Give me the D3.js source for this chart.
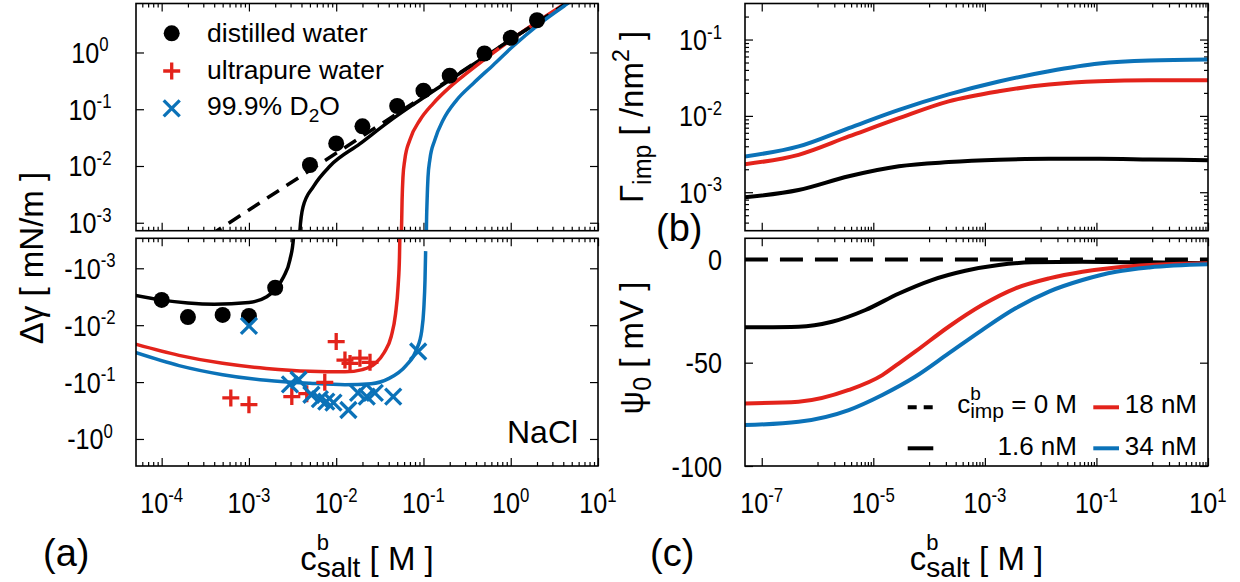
<!DOCTYPE html>
<html>
<head>
<meta charset="utf-8">
<script src="https://cdn.jsdelivr.net/npm/d3@7"></script>
<style>
  body { margin: 0; background: #fff; }
  svg { font-family: "Liberation Sans", Arial, sans-serif; }
</style>
</head>
<body>
<div id="chart"></div>
<script>
/* DATA */
// tick labels (exponents of 10, or plain values)
const xLeftExp = [-4, -3, -2, -1, 0, 1];
const yTopLeftExp = [0, -1, -2, -3];
const yBotLeftExp = [-3, -2, -1, 0];
const xRightExp = [-7, -5, -3, -1, 1];
const yTopRightExp = [-1, -2, -3];
const yBotRightTicks = [0, -50, -100];

// (a) measured delta gamma [mN/m] vs c_salt [M]
const distilled = [[1e-4, -0.0036], [2e-4, -0.0072], [5e-4, -0.0066], [1e-3, -0.0069], [2e-3, -0.0022],
  [5e-3, 0.0104], [0.01, 0.025], [0.02, 0.050], [0.05, 0.114], [0.1, 0.212], [0.2, 0.39],
  [0.5, 0.96], [1, 1.81], [2, 3.7]];
const ultrapure = [[6.2e-4, -0.19], [1e-3, -0.25], [3.1e-3, -0.18], [4.6e-3, -0.16], [7.4e-3, -0.101],
  [0.01, -0.0194], [0.0126, -0.041], [0.0144, -0.047], [0.0187, -0.038], [0.0244, -0.045]];
const d2o = [[1e-3, -0.0103], [2.95e-3, -0.11], [3.7e-3, -0.091], [5.2e-3, -0.167], [6.5e-3, -0.20],
  [7.7e-3, -0.22], [9.3e-3, -0.23], [0.0138, -0.31], [0.0178, -0.155], [0.0224, -0.18],
  [0.0277, -0.155], [0.045, -0.18], [0.087, -0.029]];

// (a) theory curves
const fitZero = [[1e-5, 1.68e-5], [1e-3, 1.68e-3], [1e-1, 0.168], [10, 16.8]];
const fit16 = [[5e-5, -0.0030], [1e-4, -0.00363], [2e-4, -0.00407], [4e-4, -0.00427], [1e-3, -0.00398],
  [1.6e-3, -0.00316], [2e-3, -0.00234], [2.5e-3, -0.00141], [2.95e-3, -0.00071], [3.24e-3, -0.000295],
  [3.39e-3, -0.0001], [3.72e-3, 0.0001], [3.84e-3, 0.000724], [4.17e-3, 0.0019], [5.5e-3, 0.00437],
  [8.5e-3, 0.0100], [0.0186, 0.0245], [0.0398, 0.060], [0.0794, 0.126], [0.158, 0.257],
  [0.316, 0.522], [1, 1.68], [10, 16.8]];
const fit18 = [[5e-5, -0.0215], [1.58e-4, -0.0339], [5e-4, -0.0468], [1.58e-3, -0.0575], [5e-3, -0.0646],
  [0.0126, -0.0661], [0.020, -0.0603], [0.0282, -0.0468], [0.0355, -0.0302], [0.0427, -0.0158],
  [0.0479, -0.0063], [0.0513, -0.0020], [0.0531, -0.00063], [0.0540, -0.00016],
  [0.0552, 0.0001], [0.0560, 0.00072], [0.0569, 0.0025], [0.0582, 0.0063], [0.0611, 0.0129],
  [0.0698, 0.0288], [0.0912, 0.0646], [0.129, 0.126], [0.200, 0.245], [0.316, 0.437],
  [0.501, 0.759], [1, 1.66], [10, 16.8]];
const fit34 = [[5e-5, -0.0302], [1.58e-4, -0.0513], [5e-4, -0.0741], [1.58e-3, -0.0933], [5e-3, -0.105],
  [0.0126, -0.111], [0.0251, -0.107], [0.0398, -0.0871], [0.0631, -0.0513], [0.0832, -0.0269],
  [0.0955, -0.0126], [0.101, -0.0050], [0.1042, -0.00158], [0.1059, -0.0005],
  [0.1076, 0.0001], [0.1081, 0.00072], [0.1101, 0.0025], [0.1127, 0.0063], [0.1183, 0.0129],
  [0.1349, 0.0288], [0.168, 0.0646], [0.240, 0.145], [0.372, 0.285], [0.631, 0.603],
  [1.047, 1.26], [2.0, 2.95], [4.47, 7.24], [10, 16.6]];

// (b) impurity surface excess [1/nm^2]
const gamma16 = [[5e-8, 0.000859], [4.57e-7, 0.00107], [3.63e-6, 0.00162], [2.88e-5, 0.00219],
  [2.24e-4, 0.00248], [1.78e-3, 0.00266], [0.0141, 0.00274], [0.112, 0.00274], [0.891, 0.00269], [10, 0.00263]];
const gamma18 = [[5e-8, 0.00233], [4.57e-7, 0.00309], [3.63e-6, 0.00537], [2.88e-5, 0.00933],
  [2.24e-4, 0.0155], [1.78e-3, 0.0210], [0.0141, 0.0257], [0.112, 0.0284], [0.891, 0.0292], [10, 0.0292]];
const gamma34 = [[5e-8, 0.00294], [4.57e-7, 0.00398], [3.63e-6, 0.00692], [2.88e-5, 0.0120],
  [2.24e-4, 0.0191], [1.78e-3, 0.0282], [0.0141, 0.0384], [0.112, 0.0484], [0.891, 0.0530], [10, 0.0546]];

// (c) surface potential [mV]
const psiZero = [[5e-8, 0], [10, 0]];
const psi16 = [[5e-8, -32.9], [4.57e-7, -32.6], [1.82e-6, -30.2], [7.24e-6, -24.5], [2.88e-5, -16.5],
  [1.12e-4, -10.0], [4.47e-4, -5.5], [1.78e-3, -2.7], [7.08e-3, -1.45], [0.0562, -1.1], [0.891, -1.45], [10, -1.9]];
const psi18 = [[5e-8, -69.7], [4.57e-7, -68.9], [3.63e-6, -63.2], [1.45e-5, -56], [2.88e-5, -50.3],
  [5.62e-5, -44.7], [2.24e-4, -32.6], [8.91e-4, -22.1], [3.55e-3, -14.0], [0.0141, -9.2],
  [0.0562, -6.0], [0.224, -3.9], [0.891, -2.7], [10, -1.9]];
const psi34 = [[5e-8, -80.2], [4.57e-7, -78.6], [3.63e-6, -72.9], [1.45e-5, -65.6], [5.62e-5, -56.8],
  [2.24e-4, -45.5], [8.91e-4, -34.2], [3.55e-3, -23.7], [0.0141, -15.6], [0.0562, -10.0],
  [0.224, -6.0], [0.891, -3.9], [10, -2.4]];

/* LAYOUT */
const width = 1240, height = 582;
const red = "#e3231b", blue = "#0b72b8";
const panelL = [136, 598], panelR = [745, 1208];
const topY = [3.5, 230.7], botY = [238.3, 466];

const svg = d3.select("#chart").append("svg")
  .attr("width", width).attr("height", height);

// scales
const xL = d3.scaleLog().domain([Math.pow(10, -4.294), 10]).range(panelL);
const yTL = d3.scaleLog().domain([Math.pow(10, -3.14), Math.pow(10, 0.863)]).range([topY[1], topY[0]]);
const yBL = d3.scaleLog().domain([Math.pow(10, -3.527), Math.pow(10, 0.475)]).range(botY); // |delta gamma|, grows downward
const xR = d3.scaleLog().domain([Math.pow(10, -7.3), 10]).range(panelR);
const yTR = d3.scaleLog().domain([Math.pow(10, -3.504), Math.pow(10, -0.528)]).range([topY[1], topY[0]]);
const yBR = d3.scaleLinear().domain([-100, 10.2]).range([botY[1], botY[0]]);

// clip paths
function clip(id, xr, yr) {
  svg.append("clipPath").attr("id", id).append("rect")
    .attr("x", xr[0]).attr("y", yr[0])
    .attr("width", xr[1] - xr[0]).attr("height", yr[1] - yr[0]);
}
clip("cTL", panelL, topY); clip("cBL", panelL, botY);
clip("cTR", panelR, topY); clip("cBR", panelR, botY);

// minor tick helpers
function logMinors(scale) {
  const [a, b] = scale.domain();
  const out = [];
  for (let e = Math.floor(Math.log10(a)) - 1; e <= Math.ceil(Math.log10(b)); e++) {
    for (let k = 2; k <= 9; k++) {
      const v = k * Math.pow(10, e);
      if (v > a && v < b) out.push(v);
    }
  }
  return out;
}
function rightMinors() {
  const out = [];
  xRightExp.forEach(e => {
    for (let k = 1; k <= 9; k++) {
      const v = k * Math.pow(10, e + 1);
      if (v < 10) out.push(v);
    }
  });
  return out;
}

function ticks(axisFn, scale, vals, size, tr) {
  svg.append("g").attr("transform", tr)
    .call(axisFn(scale).tickValues(vals).tickSize(-size).tickFormat(""))
    .call(g => g.select(".domain").remove())
    .selectAll("line").attr("stroke", "#000").attr("stroke-width", 1.2);
}

function frame(xr, yr) {
  svg.append("rect").attr("x", xr[0]).attr("y", yr[0])
    .attr("width", xr[1] - xr[0]).attr("height", yr[1] - yr[0])
    .attr("fill", "none").attr("stroke", "#000").attr("stroke-width", 1.6);
}

const pw = e => Math.pow(10, e);

// + TICKS, left panels
[topY, botY].forEach((yr, i) => {
  const ys = i === 0 ? yTL : yBL;
  const yExp = i === 0 ? yTopLeftExp : yBotLeftExp;
  ticks(d3.axisBottom, xL, xLeftExp.map(pw), 8, `translate(0,${yr[1]})`);
  ticks(d3.axisTop, xL, xLeftExp.map(pw), 8, `translate(0,${yr[0]})`);
  ticks(d3.axisBottom, xL, logMinors(xL), 4, `translate(0,${yr[1]})`);
  ticks(d3.axisTop, xL, logMinors(xL), 4, `translate(0,${yr[0]})`);
  ticks(d3.axisLeft, ys, yExp.map(pw), 8, `translate(${panelL[0]},0)`);
  ticks(d3.axisRight, ys, yExp.map(pw), 8, `translate(${panelL[1]},0)`);
});

// + TICKS, right panels
[topY, botY].forEach(yr => {
  ticks(d3.axisBottom, xR, xRightExp.map(pw), 8, `translate(0,${yr[1]})`);
  ticks(d3.axisTop, xR, xRightExp.map(pw), 8, `translate(0,${yr[0]})`);
  ticks(d3.axisBottom, xR, rightMinors(), 4, `translate(0,${yr[1]})`);
  ticks(d3.axisTop, xR, rightMinors(), 4, `translate(0,${yr[0]})`);
});
ticks(d3.axisLeft, yTR, yTopRightExp.map(pw), 8, `translate(${panelR[0]},0)`);
ticks(d3.axisRight, yTR, yTopRightExp.map(pw), 8, `translate(${panelR[1]},0)`);
ticks(d3.axisLeft, yTR, logMinors(yTR), 4, `translate(${panelR[0]},0)`);
ticks(d3.axisRight, yTR, logMinors(yTR), 4, `translate(${panelR[1]},0)`);
ticks(d3.axisLeft, yBR, yBotRightTicks, 8, `translate(${panelR[0]},0)`);
ticks(d3.axisRight, yBR, yBotRightTicks, 8, `translate(${panelR[1]},0)`);

// + TICK LABELS (narrow digits like the original)
function tickText(x, y, main, exp, anchor) {
  const t = svg.append("text")
    .attr("transform", `translate(${x},${y}) scale(0.84,1)`)
    .attr("text-anchor", anchor).attr("font-size", 30);
  t.append("tspan").text(main);
  if (exp !== undefined) t.append("tspan").attr("dy", -11.5).attr("font-size", 20).text(exp);
}
xLeftExp.forEach(e => tickText(xL(pw(e)), 513, "10", String(e), "middle"));
xRightExp.forEach(e => tickText(xR(pw(e)), 513, "10", String(e), "middle"));
yTopLeftExp.forEach(e => tickText(90, yTL(pw(e)) + 10.5, "10", String(e), "middle"));
yBotLeftExp.forEach(e => tickText(90, yBL(pw(e)) + 10.5, "-10", String(e), "middle"));
yTopRightExp.forEach(e => tickText(722, yTR(pw(e)) + 10.5, "10", String(e), "end"));
yBotRightTicks.forEach(v => tickText(722, yBR(v) + 10.5, String(v), undefined, "end"));

// + CURVES
function curve(data, xs, ys, clipId, color, w, dash) {
  const line = d3.line().x(d => xs(d[0])).y(d => ys(d[1])).curve(d3.curveMonotoneX);
  const p = svg.append("path").datum(data)
    .attr("clip-path", `url(#${clipId})`)
    .attr("d", line).attr("fill", "none")
    .attr("stroke", color).attr("stroke-width", w);
  if (dash) p.attr("stroke-dasharray", dash);
}
const pos = s => s.filter(d => d[1] > 0);
const neg = s => s.filter(d => d[1] < 0).map(d => [d[0], -d[1]]);

// (a) top: positive, bottom: negative
curve(pos(fit16), xL, yTL, "cTL", "#000", 3.5);
curve(pos(fit18), xL, yTL, "cTL", red, 3.5);
curve(fitZero, xL, yTL, "cTL", "#000", 3.5, "14,9");
curve(pos(fit34), xL, yTL, "cTL", blue, 3.5);
curve(neg(fit16), xL, yBL, "cBL", "#000", 3.5);
curve(neg(fit18), xL, yBL, "cBL", red, 3.5);
curve(neg(fit34), xL, yBL, "cBL", blue, 3.5);

// (b)
curve(gamma16, xR, yTR, "cTR", "#000", 4);
curve(gamma18, xR, yTR, "cTR", red, 4);
curve(gamma34, xR, yTR, "cTR", blue, 4);

// (c)
curve(psiZero, xR, yBR, "cBR", "#000", 4, "23,12");
curve(psi16, xR, yBR, "cBR", "#000", 4);
curve(psi18, xR, yBR, "cBR", red, 4);
curve(psi34, xR, yBR, "cBR", blue, 4);

// + POINTS
const plusPath = "M-8.5,0H8.5M0,-8.5V8.5";
const crossPath = "M-8,-8L8,8M-8,8L8,-8";
function place(d) {
  return d[1] > 0 ? `translate(${xL(d[0])},${yTL(d[1])})` : `translate(${xL(d[0])},${yBL(-d[1])})`;
}
svg.append("g").selectAll("circle").data(distilled).join("circle")
  .attr("transform", place).attr("r", 8).attr("fill", "#000");
svg.append("g").selectAll("path").data(ultrapure).join("path")
  .attr("transform", place).attr("d", plusPath)
  .attr("stroke", red).attr("stroke-width", 3.3).attr("fill", "none");
svg.append("g").selectAll("path").data(d2o).join("path")
  .attr("transform", place).attr("d", crossPath)
  .attr("stroke", blue).attr("stroke-width", 3.3).attr("fill", "none");

// + FRAMES
frame(panelL, topY); frame(panelL, botY); frame(panelR, topY); frame(panelR, botY);

// + TEXT
function rich(x, y, parts, size, anchor, rot) {
  const t = svg.append("text")
    .attr("transform", `translate(${x},${y})` + (rot ? ` rotate(${rot})` : ""))
    .attr("text-anchor", anchor || "start").attr("font-size", size);
  let cur = 0;
  parts.forEach(p => {
    const s = p.shift || 0;
    const ts = t.append("tspan").attr("dy", s - cur).text(p.t);
    if (p.size) ts.attr("font-size", p.size);
    if (p.dx) ts.attr("dx", p.dx);
    cur = s;
  });
  return t;
}

// top-left legend
svg.append("circle").attr("cx", 171.7).attr("cy", 33.3).attr("r", 8).attr("fill", "#000");
svg.append("path").attr("transform", "translate(171.7,71)").attr("d", plusPath)
  .attr("stroke", red).attr("stroke-width", 3.3);
svg.append("path").attr("transform", "translate(171.7,108.3)").attr("d", crossPath)
  .attr("stroke", blue).attr("stroke-width", 3.3);
rich(207, 42, [{ t: "distilled water" }], 26.5);
rich(207, 79, [{ t: "ultrapure water" }], 26.5);
rich(207, 115, [{ t: "99.9% D" }, { t: "2", shift: 7, size: 19 }, { t: "O", shift: 0 }], 26.5);

rich(507, 443, [{ t: "NaCl" }], 32);

// bottom-right legend
function sample(x0, x1, y, color, dash) {
  const l = svg.append("line").attr("x1", x0).attr("x2", x1).attr("y1", y).attr("y2", y)
    .attr("stroke", color).attr("stroke-width", 4);
  if (dash) l.attr("stroke-dasharray", dash);
}
sample(907.7, 933.3, 407.3, "#000", "9,7");
sample(907.7, 933.3, 448.3, "#000");
sample(1093.3, 1119, 407.3, red);
sample(1093.3, 1119, 448.3, blue);
rich(1077, 413, [{ t: "c" }, { t: "b", shift: -13, size: 19 },
  { t: "imp", shift: 5, size: 21, dx: -0.556 * 19 }, { t: " = 0 M", shift: 0 }], 26, "end");
rich(1077, 455, [{ t: "1.6 nM" }], 26, "end");
rich(1197, 413, [{ t: "18 nM" }], 26, "end");
rich(1197, 455, [{ t: "34 nM" }], 26, "end");

// axis titles
const cTitle = [{ t: "c" }, { t: "b", shift: -20, size: 22 },
  { t: "salt", shift: 7, size: 28, dx: -0.556 * 22 }, { t: " [ M ]", shift: 0 }];
rich((panelL[0] + panelL[1]) / 2, 570, cTitle, 33, "middle");
rich((panelR[0] + panelR[1]) / 2, 570, cTitle, 33, "middle");
rich(43, 258, [{ t: "Δγ [ mN/m ]" }], 33, "middle", -90);
rich(643, 117, [{ t: "Γ" }, { t: "imp", shift: 8, size: 25 }, { t: " [ /nm", shift: 0 },
  { t: "2", shift: -14, size: 23 }, { t: " ]", shift: 0 }], 33, "middle", -90);
rich(643, 348, [{ t: "ψ" }, { t: "0", shift: 8, size: 25 }, { t: " [ mV ]", shift: 0 }], 33, "middle", -90);

// panel letters
rich(43, 566, [{ t: "(a)" }], 38);
rich(656, 241, [{ t: "(b)" }], 38);
rich(650, 566, [{ t: "(c)" }], 38);
</script>
</body>
</html>
